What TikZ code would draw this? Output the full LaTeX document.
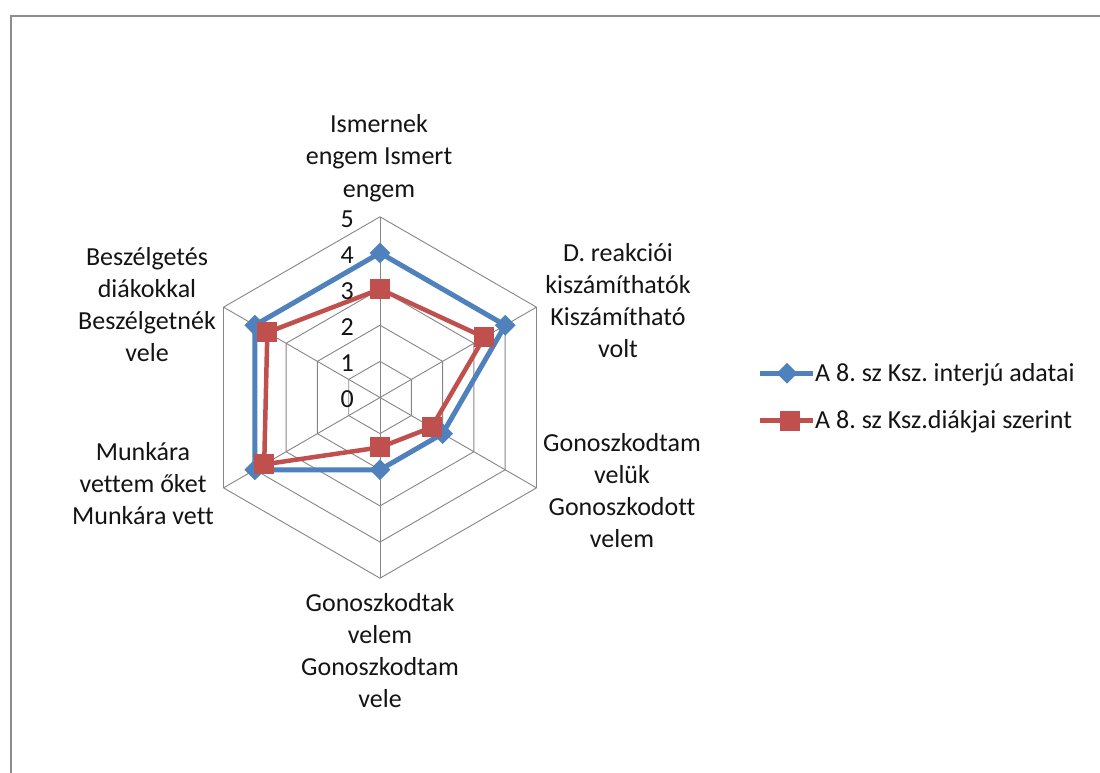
\documentclass[tikz,border=0pt]{standalone}
\usepackage{fontspec}
\setmainfont[Ligatures=NoCommon]{Carlito}
\usetikzlibrary{shapes.geometric}
\definecolor{gridgray}{RGB}{134,134,134}
\definecolor{frameg}{RGB}{140,140,140}
\definecolor{serblue}{RGB}{79,129,189}
\definecolor{serred}{RGB}{192,80,77}
\definecolor{txt}{RGB}{20,20,20}
\frenchspacing
\begin{document}
\begin{tikzpicture}[x=1pt,y=-1pt,
  lbl/.style={anchor=base,inner sep=0pt,text=txt,font=\fontsize{26}{32}\selectfont},
  legtext/.style={anchor=base west,inner sep=0pt,text=txt,font=\fontsize{26}{32}\selectfont},
  ticklbl/.style={anchor=east,inner sep=0pt,text=txt,font=\fontsize{26}{32}\selectfont},
  gridline/.style={draw=gridgray,line width=0.9pt},
  frameline/.style={draw=frameg,line width=2.2pt},
  bline/.style={draw=serblue,line width=5pt,line join=round},
  rline/.style={draw=serred,line width=4.5pt,line join=round},
  bmark/.style={diamond,fill=serblue,inner sep=0pt,minimum width=21pt,minimum height=21pt},
  rmark/.style={rectangle,fill=serred,inner sep=0pt,minimum size=20pt},
]
\useasboundingbox (0,0) rectangle (1100,773);
\fill[white] (0,0) rectangle (1100,773);
% frame
\draw[frameline] (11,800) -- (11,16) -- (1120,16);

\def\u{36.14}
\begin{scope}[shift={(380,397.5)},yscale=-1]
  % grid
  \foreach \r in {1,...,5}{
    \draw[gridline] (90:{\r*\u}) -- (30:{\r*\u}) -- (-30:{\r*\u}) -- (-90:{\r*\u}) -- (-150:{\r*\u}) -- (150:{\r*\u}) -- cycle;
  }
  \coordinate (c0) at (0,0);
  \foreach \a/\n in {90/1,30/2,-30/3,-90/4,-150/5,150/6}{
    \coordinate (ax\n) at (\a:{5*\u});
    \draw[gridline] (c0) -- (ax\n);
  }
  % series data points
  \foreach \a/\v/\n in {90/4/1,30/4/2,-30/2/3,-90/2/4,-150/4/5,150/4/6}{
    \coordinate (bp\n) at (\a:{\v*\u});
  }
  \foreach \a/\v/\n in {90/3/1,30/3.33/2,-30/1.65/3,-90/1.38/4,-150/3.7/5,150/3.6/6}{
    \coordinate (rp\n) at (\a:{\v*\u});
  }
\end{scope}

% blue series
\draw[bline] (bp1) -- (bp2) -- (bp3) -- (bp4) -- (bp5) -- (bp6) -- cycle;
\foreach \n in {1,...,6}{ \node[bmark] (bm\n) at (bp\n) {}; }
% red series
\draw[rline] (rp1) -- (rp2) -- (rp3) -- (rp4) -- (rp5) -- (rp6) -- cycle;
\foreach \n in {1,...,6}{ \node[rmark] (rm\n) at (rp\n) {}; }

% tick labels
\foreach \i in {0,...,5}{
  \pgfmathsetmacro{\ty}{397.5-\i*36.14+2}
  \node[ticklbl] (tk\i) at (354,\ty) {\i};
}

% axis labels
\node[lbl] (l1) at (379,133) {\begin{tabular}[t]{@{}c@{}}Ismernek\\engem Ismert\\engem\end{tabular}};
\node[lbl] (l2) at (618,261.7) {\begin{tabular}[t]{@{}c@{}}D. reakciói\\kiszámíthatók\\Kiszámítható\\volt\end{tabular}};
\node[lbl] (l3) at (622,451.7) {\begin{tabular}[t]{@{}c@{}}Gonoszkodtam\\velük\\Gonoszkodott\\velem\end{tabular}};
\node[lbl] (l4) at (380,611.7) {\begin{tabular}[t]{@{}c@{}}Gonoszkodtak\\velem\\Gonoszkodtam\\vele\end{tabular}};
\node[lbl] (l5) at (143,460) {\begin{tabular}[t]{@{}c@{}}Munkára\\vettem őket\\Munkára vett\end{tabular}};
\node[lbl] (l6) at (147,265) {\begin{tabular}[t]{@{}c@{}}Beszélgetés\\diákokkal\\Beszélgetnék\\vele\end{tabular}};

% legend
\coordinate (lb1) at (760,373.3);
\coordinate (lb2) at (813,373.3);
\draw[bline] (lb1) -- (lb2);
\node[bmark] (lbm) at (787,373.3) {};
\node[legtext] (lbt) at (815,381.7) {A 8. sz Ksz. interjú adatai};
\coordinate (lr1) at (760,420.7);
\coordinate (lr2) at (813,420.7);
\draw[rline] (lr1) -- (lr2);
\node[rmark] (lrm) at (790,420.7) {};
\node[legtext] (lrt) at (815,428.3) {A 8. sz Ksz.diákjai szerint};
\end{tikzpicture}
\end{document}
